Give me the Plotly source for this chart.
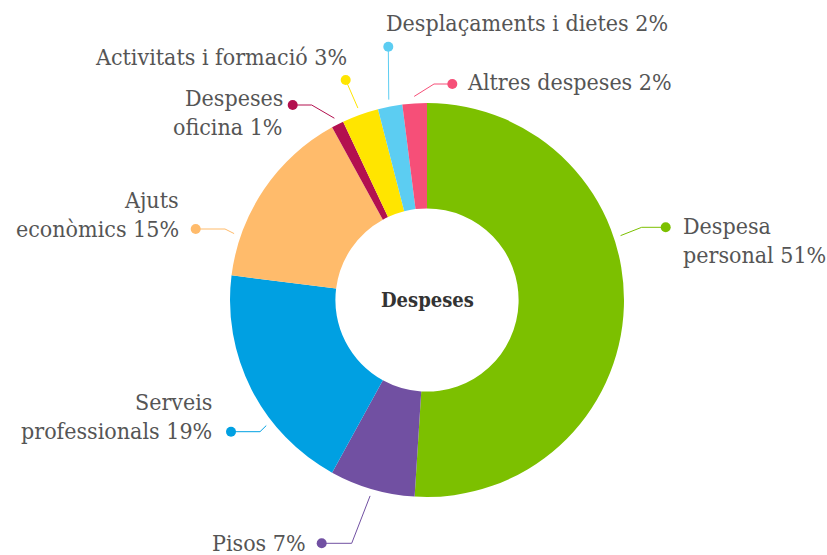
import math
import plotly.graph_objects as go

# ---------------- data ----------------
categories = ["Despesa personal", "Pisos", "Serveis professionals", "Ajuts econòmics",
              "Despeses oficina", "Activitats i formació", "Desplaçaments i dietes",
              "Altres despeses"]
values = [51, 7, 19, 15, 1, 3, 2, 2]
label_lines = [["Despesa", "personal 51%"], ["Pisos 7%"], ["Serveis", "professionals 19%"],
               ["Ajuts", "econòmics 15%"], ["Despeses", "oficina 1%"],
               ["Activitats i formació 3%"], ["Desplaçaments i dietes 2%"],
               ["Altres despeses 2%"]]
center_title = "Despeses"

# ---------------- style / layout ----------------
colors = ["#7cc000", "#7150a2", "#00a0e2", "#ffbb6b", "#b3104f", "#ffe500",
          "#5ccdf2", "#f64f78"]
W, H = 827, 555
CX, CY, R = 427, 300, 197
HOLE = 0.465
GAP = 7
LINE_H = 28.5
FONT = "DejaVu Serif Condensed, DejaVu Serif, serif"
TXT = "#555555"

# dot position of each label, elbow x offset from dot, connector angle override
dot_pos = [(665.7, 227.3), (321.7, 543.3), (231, 431.7), (195.7, 229),
           (292.7, 105), (345.7, 80), (388.3, 46.7), (452.3, 84)]
elbow_dx = [-24, 30, 29, 29.3, 19, 0, 0, -18.3]
conn_angle = [71.6, None, 232, 289, None, None, None, None]
# x anchor, centre y of first line, side
text_anchor = [(681.7, 226, "left"), (306.7, 543, "right"), (213.3, 402, "right"),
               (180, 200, "right"), (284, 98, "right"), (348, 57, "right"),
               (527, 22.5, "center"), (466, 82, "left")]

fig = go.Figure()

fig.add_trace(go.Pie(
    labels=categories, values=values, hole=HOLE, sort=False, direction="clockwise",
    rotation=0, textinfo="none", marker=dict(colors=colors, line=dict(width=0)),
    domain=dict(x=[(CX - R) / W, (CX + R) / W], y=[1 - (CY + R) / H, 1 - (CY - R) / H]),
    showlegend=False, hoverinfo="label+percent",
))

total = sum(values)
cum = 0
annotations = []
for i, v in enumerate(values):
    mid = (cum + v / 2) / total * 360
    cum += v
    ang = conn_angle[i] if conn_angle[i] is not None else mid
    a = math.radians(ang)
    sx = CX + (R + GAP) * math.sin(a)
    sy = CY - (R + GAP) * math.cos(a)
    dx, dy = dot_pos[i]
    ex = dx + elbow_dx[i]
    fig.add_trace(go.Scatter(
        x=[sx, ex, dx], y=[sy, dy, dy], mode="lines",
        line=dict(color=colors[i], width=1), hoverinfo="skip", showlegend=False,
        xaxis="x", yaxis="y"))
    fig.add_trace(go.Scatter(
        x=[dx], y=[dy], mode="markers", marker=dict(color=colors[i], size=10),
        hoverinfo="skip", showlegend=False, xaxis="x", yaxis="y"))
    tx, ty, side = text_anchor[i]
    for j, line in enumerate(label_lines[i]):
        annotations.append(dict(
            x=tx, y=ty + j * LINE_H, xref="x", yref="y", text=line, showarrow=False,
            xanchor=side, yanchor="middle", borderpad=0,
            font=dict(family=FONT, size=23, color=TXT)))

annotations.append(dict(
    x=CX, y=CY, xref="x", yref="y", text="<b>" + center_title + "</b>", showarrow=False,
    xanchor="center", yanchor="middle",
    font=dict(family=FONT, size=20, color="#333333")))

fig.update_layout(
    width=W, height=H, margin=dict(l=0, r=0, t=0, b=0),
    paper_bgcolor="white", plot_bgcolor="rgba(0,0,0,0)",
    xaxis=dict(range=[0, W], visible=False, fixedrange=True),
    yaxis=dict(range=[H, 0], visible=False, fixedrange=True),
    annotations=annotations,
)

fig.write_html("out.html", config={"displayModeBar": False},
               post_script="document.body.style.margin='0';document.body.style.overflow='hidden';")
